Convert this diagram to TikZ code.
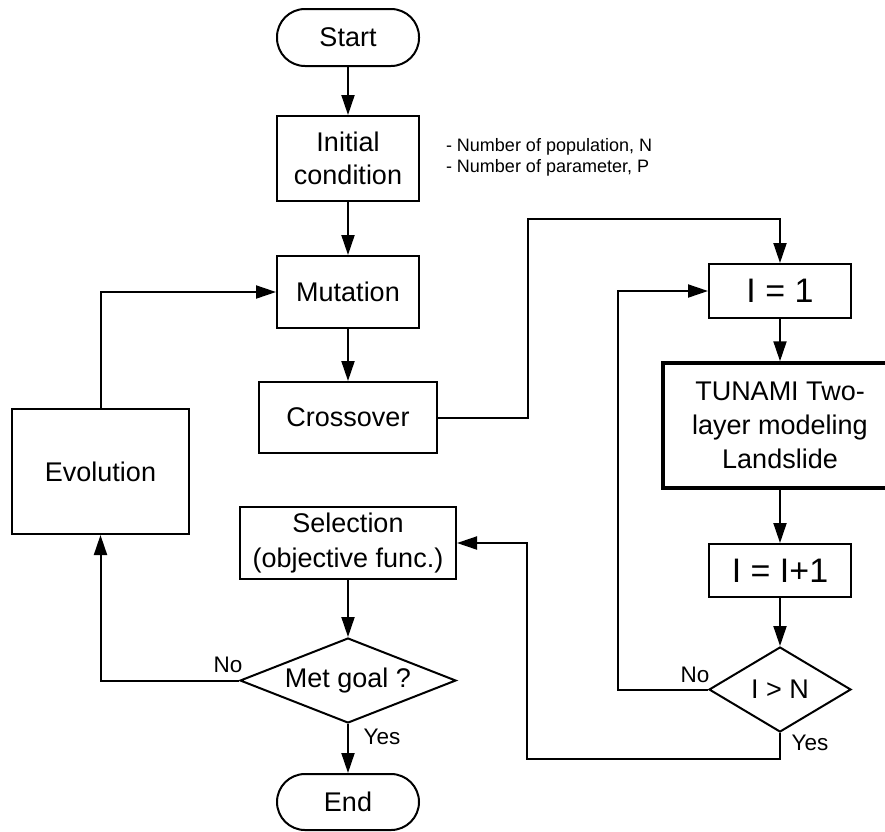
\documentclass[tikz,border=0pt]{standalone}
\usepackage{fontspec}
\setmainfont{Liberation Sans}
\usetikzlibrary{arrows.meta,shapes.geometric}
\begin{document}
\begin{tikzpicture}[x=1pt,y=-1pt,line width=2pt,
  arr/.style={-{Triangle[length=20pt,width=13pt]}},
  mainfont/.style={font=\fontsize{27}{33}\selectfont},
  box/.style={draw,rectangle,inner sep=0pt,align=center,mainfont},
  term/.style={box,rounded corners=28pt},
  dia/.style={draw,diamond,inner sep=0pt,align=center,mainfont},
  bigfont/.style={font=\fontsize{34}{40}\selectfont},
  lab/.style={inner sep=0pt,font=\fontsize{22.5}{26}\selectfont},
  note/.style={inner sep=0pt,align=left,anchor=west,font=\fontsize{18}{21}\selectfont}]
\useasboundingbox (0,0) rectangle (885,831);
\node[term,minimum width=142pt,minimum height=57pt] (start) at (348,37.5) {Start};
\node[box,minimum width=142pt,minimum height=85pt] (init) at (348,158.5) {Initial\\condition};
\node[box,minimum width=142pt,minimum height=72pt] (mut) at (348,292) {Mutation};
\node[box,minimum width=178pt,minimum height=71pt] (cross) at (348,417.5) {Crossover};
\node[box,minimum width=177pt,minimum height=125pt] (evo) at (100.5,471.5) {Evolution};
\node[box,font=\fontsize{27}{35}\selectfont,minimum width=216pt,minimum height=72pt] (sel) at (348,543) {Selection\\(objective func.)};
\node[dia,minimum width=216pt,minimum height=85pt,aspect=2.5] (goal) at (348,680.5) {Met goal ?};
\node[term,minimum width=142pt,minimum height=56pt] (end) at (348,802) {End};
\node[box,bigfont,minimum width=142pt,minimum height=54pt] (i1) at (780,291) {I = 1};
\node[box,font=\fontsize{27}{34}\selectfont,line width=3.5pt,minimum width=234pt,minimum height=125pt] (tun) at (780,425.5) {TUNAMI Two-\\layer modeling\\Landslide};
\node[box,bigfont,minimum width=142pt,minimum height=53pt] (inc) at (780,570.5) {I = I+1};
\node[dia,minimum width=142pt,minimum height=85pt,aspect=1.67] (gt) at (780,689.5) {I > N};
\node[note] (ann) at (445,157.5) {- Number of population, N\\- Number of parameter, P};
\node[lab] (goalno) at (228,665) {No};
\node[lab] (goalyes) at (382,737) {Yes};
\node[lab] (gtno) at (695,675) {No};
\node[lab] (gtyes) at (810,743) {Yes};
\coordinate (c1) at (528,417.5);
\coordinate (c2) at (528,219);
\coordinate (c3) at (780,219);
\coordinate (l1) at (618,689.5);
\coordinate (l2) at (618,291);
\coordinate (y1) at (780,759);
\coordinate (y2) at (527,759);
\coordinate (y3) at (527,543);
\coordinate (g1) at (100.5,680.5);
\coordinate (e1) at (100.5,292);
\draw[arr] (start) -- (init);
\draw[arr] (init) -- (mut);
\draw[arr] (mut) -- (cross);
\draw[arr] (cross.east) -- (c1) -- (c2) -- (c3) -- (i1.north);
\draw[arr] (i1) -- (tun);
\draw[arr] (tun) -- (inc);
\draw[arr] (inc) -- (gt.north);
\draw[arr] (gt.west) -- (l1) -- (l2) -- (i1.west);
\draw[arr] (gt.south) -- (y1) -- (y2) -- (y3) -- (sel.east);
\draw[arr] (sel) -- (goal.north);
\draw[arr] (goal.west) -- (g1) -- (evo.south);
\draw[arr] (evo.north) -- (e1) -- (mut.west);
\draw[arr] (goal.south) -- (end.north);
\end{tikzpicture}
\end{document}
